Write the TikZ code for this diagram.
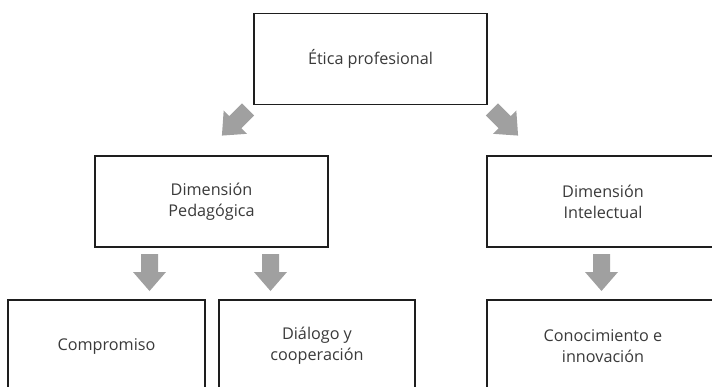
\documentclass[tikz,border=0pt]{standalone}
\usepackage{fontspec}
\setmainfont{Open Sans}
\definecolor{txtgray}{HTML}{3A3A3A}
\definecolor{arrgray}{HTML}{A0A0A0}
\definecolor{boxline}{HTML}{1E1E1E}
\begin{document}
\begin{tikzpicture}[x=1pt,y=1pt,
  box/.style={draw=boxline,line width=1.2pt,fill=white,inner sep=0pt,
    text=txtgray,align=center,
    font=\fontsize{16.2}{21}\selectfont},
  pics/blockarrow/.style={code={
    \fill[arrgray] (-8.5,18.5) -- (8.5,18.5) -- (8.5,0.5) -- (16.5,0.5)
      -- (0,-18.5) -- (-16.5,0.5) -- (-8.5,0.5) -- cycle;}}]
\useasboundingbox (0,0) rectangle (712,-386);
\begin{scope}
\clip (0,0) rectangle (712,-386);
% boxes
\node[box,minimum width=233pt,minimum height=91pt] (etica) at (370.5,-59) {Ética profesional};
\node[box,minimum width=233pt,minimum height=91pt] (ped) at (211.5,-201.5) {Dimensión\\Pedagógica};
\node[box,minimum width=232pt,minimum height=91pt] (int) at (603,-201.5) {Dimensión\\Intelectual};
\node[box,minimum width=197pt,minimum height=92pt] (comp) at (106.5,-346) {Compromiso};
\node[box,minimum width=196pt,minimum height=92pt] (dial) at (317,-346) {Diálogo y\\cooperación};
\node[box,minimum width=232pt,minimum height=92pt] (cono) at (603,-346) {Conocimiento e\\innovación};
% arrows
\pic[rotate=-45] (a1) at (235,-122.5) {blockarrow};
\pic[rotate=45] (a2) at (505,-122.5) {blockarrow};
\pic (a3) at (149.5,-272.5) {blockarrow};
\pic (a4) at (270.5,-272.5) {blockarrow};
\pic (a5) at (601.5,-272.5) {blockarrow};
\end{scope}
\end{tikzpicture}
\end{document}
